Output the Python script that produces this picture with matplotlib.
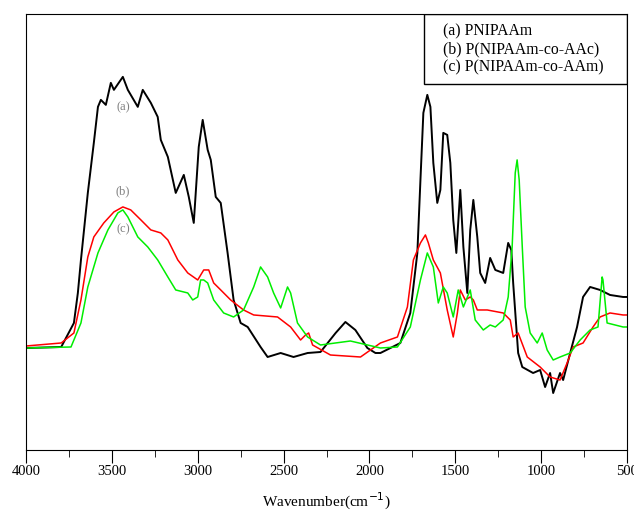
import matplotlib.pyplot as plt
from matplotlib.patches import Rectangle

plt.rcParams['font.family'] = ['Liberation Serif', 'DejaVu Serif']

# (a) PNIPAAm
wn_a = [4000, 3795, 3721, 3698, 3680, 3640, 3605, 3581, 3564, 3535, 3506, 3488, 3436, 3407,
        3349, 3320, 3273, 3233, 3215, 3174, 3128, 3081, 3052, 3023, 2994, 2971, 2942, 2924,
        2895, 2866, 2826, 2791, 2750, 2709, 2634, 2593, 2517, 2442, 2360, 2285, 2197, 2140,
        2082, 2012, 1965, 1936, 1820, 1762, 1721, 1703, 1686, 1663, 1645, 1628, 1605, 1587,
        1570, 1547, 1529, 1512, 1494, 1471, 1453, 1430, 1413, 1395, 1372, 1355, 1326, 1297,
        1267, 1221, 1192, 1174, 1163, 1134, 1110, 1047, 1006, 977, 948, 930, 890, 872, 831,
        791, 756, 715, 657, 599, 523, 500]
abs_a = [1.04, 1.05, 1.29, 1.59, 1.92, 2.59, 3.09, 3.45, 3.52, 3.47, 3.69, 3.62, 3.75, 3.62,
         3.45, 3.62, 3.49, 3.35, 3.12, 2.95, 2.59, 2.77, 2.55, 2.29, 3.05, 3.32, 3.02, 2.92,
         2.55, 2.49, 1.99, 1.52, 1.29, 1.25, 1.05, 0.95, 0.99, 0.95, 0.99, 1.00, 1.19, 1.30,
         1.22, 1.04, 0.99, 0.99, 1.09, 1.39, 1.99, 2.72, 3.39, 3.57, 3.45, 2.89, 2.49, 2.62,
         3.19, 3.17, 2.89, 2.32, 1.99, 2.62, 2.05, 1.59, 2.22, 2.52, 2.15, 1.79, 1.69, 1.94,
         1.82, 1.79, 2.09, 2.02, 1.69, 0.99, 0.85, 0.79, 0.82, 0.65, 0.79, 0.59, 0.79, 0.72,
         0.99, 1.25, 1.55, 1.65, 1.62, 1.57, 1.55, 1.55]

# (b) P(NIPAAm-co-AAc)
wn_b = [4000, 3795, 3721, 3680, 3640, 3605, 3547, 3488, 3436, 3390, 3331, 3273, 3215, 3174,
        3116, 3058, 3000, 2965, 2936, 2907, 2866, 2808, 2733, 2674, 2535, 2459, 2401, 2372,
        2354, 2331, 2227, 2052, 1936, 1837, 1779, 1744, 1703, 1674, 1657, 1628, 1587, 1547,
        1512, 1488, 1471, 1442, 1413, 1395, 1372, 1314, 1221, 1180, 1163, 1134, 1081, 1006,
        948, 890, 849, 814, 756, 698, 657, 599, 523, 500]
abs_b = [1.06, 1.09, 1.19, 1.52, 1.95, 2.15, 2.29, 2.40, 2.45, 2.42, 2.32, 2.22, 2.19, 2.12,
         1.92, 1.79, 1.72, 1.82, 1.82, 1.69, 1.62, 1.52, 1.42, 1.37, 1.35, 1.25, 1.12, 1.17,
         1.19, 1.07, 0.97, 0.95, 1.09, 1.15, 1.45, 1.92, 2.09, 2.17, 2.09, 1.92, 1.79, 1.42,
         1.15, 1.39, 1.62, 1.52, 1.55, 1.52, 1.42, 1.42, 1.39, 1.32, 1.15, 1.19, 0.95, 0.85,
         0.75, 0.72, 0.89, 1.05, 1.09, 1.25, 1.35, 1.39, 1.37, 1.37]

# (c) P(NIPAAm-co-AAm)
wn_c = [4000, 3738, 3721, 3680, 3640, 3581, 3523, 3465, 3436, 3407, 3349, 3291, 3233, 3174,
        3128, 3058, 3029, 3000, 2983, 2965, 2942, 2907, 2849, 2791, 2733, 2674, 2634, 2593,
        2558, 2517, 2477, 2459, 2419, 2360, 2285, 2111, 1936, 1837, 1762, 1703, 1663, 1628,
        1599, 1570, 1547, 1512, 1483, 1453, 1413, 1384, 1337, 1297, 1267, 1221, 1192, 1169,
        1151, 1140, 1128, 1110, 1093, 1064, 1023, 994, 965, 930, 890, 831, 773, 715, 669,
        645, 640, 616, 523, 500]
abs_c = [1.04, 1.05, 1.12, 1.29, 1.65, 1.99, 2.22, 2.39, 2.42, 2.35, 2.15, 2.05, 1.92, 1.75,
         1.62, 1.59, 1.52, 1.55, 1.72, 1.72, 1.69, 1.52, 1.39, 1.35, 1.42, 1.65, 1.85, 1.75,
         1.59, 1.44, 1.65, 1.59, 1.29, 1.15, 1.07, 1.11, 1.04, 1.05, 1.25, 1.72, 1.99, 1.85,
         1.49, 1.65, 1.59, 1.35, 1.62, 1.45, 1.62, 1.32, 1.22, 1.27, 1.25, 1.32, 1.55, 2.05,
         2.79, 2.92, 2.72, 2.05, 1.45, 1.19, 1.09, 1.19, 1.02, 0.92, 0.95, 0.99, 1.12, 1.22,
         1.25, 1.75, 1.72, 1.29, 1.25, 1.25]

legend_lines = ["(a) PNIPAAm", "(b) P(NIPAAm-co-AAc)", "(c) P(NIPAAm-co-AAm)"]

fig = plt.figure(figsize=(6.34, 5.12), dpi=100)
ax = fig.add_axes([0.041, 0.121, 0.948, 0.852])

ax.plot(wn_a, abs_a, color='black', lw=1.4)
ax.plot(wn_b, abs_b, color='#ff0000', lw=1.1)
ax.plot(wn_c, abs_c, color='#00ee00', lw=1.1)

ax.set_xlim(4000, 500)
ax.set_ylim(0.02, 4.38)
ax.set_yticks([])
ax.set_xticks(range(4000, 499, -500))
ax.set_xticks(range(3750, 500, -500), minor=True)
ax.tick_params(axis='x', which='major', length=9, direction='out', labelsize=10.5, pad=2)
ax.tick_params(axis='x', which='minor', length=5, direction='out')
ax.set_xlabel("Wavenumber(cm$^{-1}$)", fontsize=11, labelpad=9)

# curve labels
ax.text(3436, 3.42, "(a)", color='#808080', fontsize=9, ha='center')
ax.text(3436, 2.58, "(b)", color='#808080', fontsize=9, ha='center')
ax.text(3436, 2.20, "(c)", color='#808080', fontsize=9, ha='center')

# legend box
ax.add_patch(Rectangle((0.662, 0.838), 0.338, 0.162, transform=ax.transAxes,
                       fill=False, edgecolor='black', lw=1.0))
for i, t in enumerate(legend_lines):
    ax.text(0.693, 0.96 - i * 0.041, t, transform=ax.transAxes, fontsize=11.3,
            va='center', ha='left')

plt.savefig("out.png", dpi=100)
